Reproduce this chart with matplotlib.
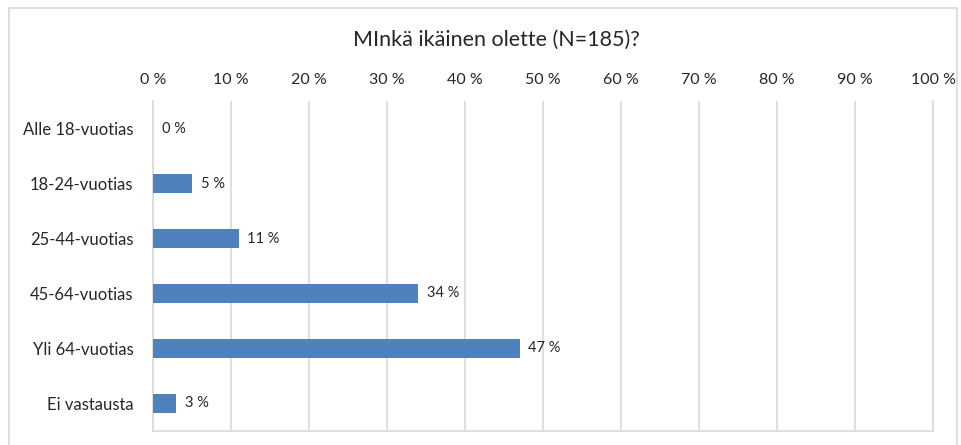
import matplotlib
matplotlib.use("Agg")
import matplotlib.pyplot as plt
from matplotlib.patches import Rectangle

plt.rcParams['font.family'] = ['Lato', 'DejaVu Sans']

# ---------------------------
# Data
# ---------------------------
categories = ["Alle 18-vuotias", "18-24-vuotias", "25-44-vuotias",
              "45-64-vuotias", "Yli 64-vuotias", "Ei vastausta"]
values = [0, 5, 11, 34, 47, 3]
ticks = list(range(0, 101, 10))
tick_labels = [f"{t} %" for t in ticks]
title = "MInkä ikäinen olette (N=185)?"

# ---------------------------
# Figure
# ---------------------------
fig = plt.figure(figsize=(9.61, 4.45), dpi=100)
ax = fig.add_axes([0.1592, 0.0315, 0.9709 - 0.1592, 0.773 - 0.0315])

# outer frame of the chart
fig.patches.append(Rectangle((9 / 961, -0.01), (957 - 9) / 961, 1 - 8 / 445 + 0.01,
                             transform=fig.transFigure, fill=False,
                             edgecolor="#d9d9d9", linewidth=1.2))

y = list(range(len(categories)))
ax.barh(y, values, height=0.33, color="#4f81bd", zorder=3)

for yi, v in zip(y, values):
    ax.text(v + 1.1, yi, f"{v} %", va="center", ha="left", fontsize=10.5, color="#262626")

ax.set_xlim(0, 100)
ax.set_ylim(len(categories) - 0.5, -0.5)
ax.set_yticks(y)
ax.set_yticklabels(categories, fontsize=12, color="#262626")
ax.set_xticks(ticks)
ax.set_xticklabels(tick_labels, fontsize=11.5, color="#262626")
ax.xaxis.tick_top()
ax.tick_params(length=0)
ax.tick_params(axis="y", pad=14)
ax.tick_params(axis="x", pad=10)

ax.grid(axis="x", color="#d9d9d9", linewidth=1.2, zorder=0)
ax.spines["top"].set_visible(False)
for s in ["left", "bottom", "right"]:
    ax.spines[s].set_color("#d9d9d9")
    ax.spines[s].set_linewidth(1.2)

fig.text(0.517, 1 - 40 / 445, title, ha="center", va="center", fontsize=15.5, color="#262626")

fig.savefig("out.png", dpi=100)
